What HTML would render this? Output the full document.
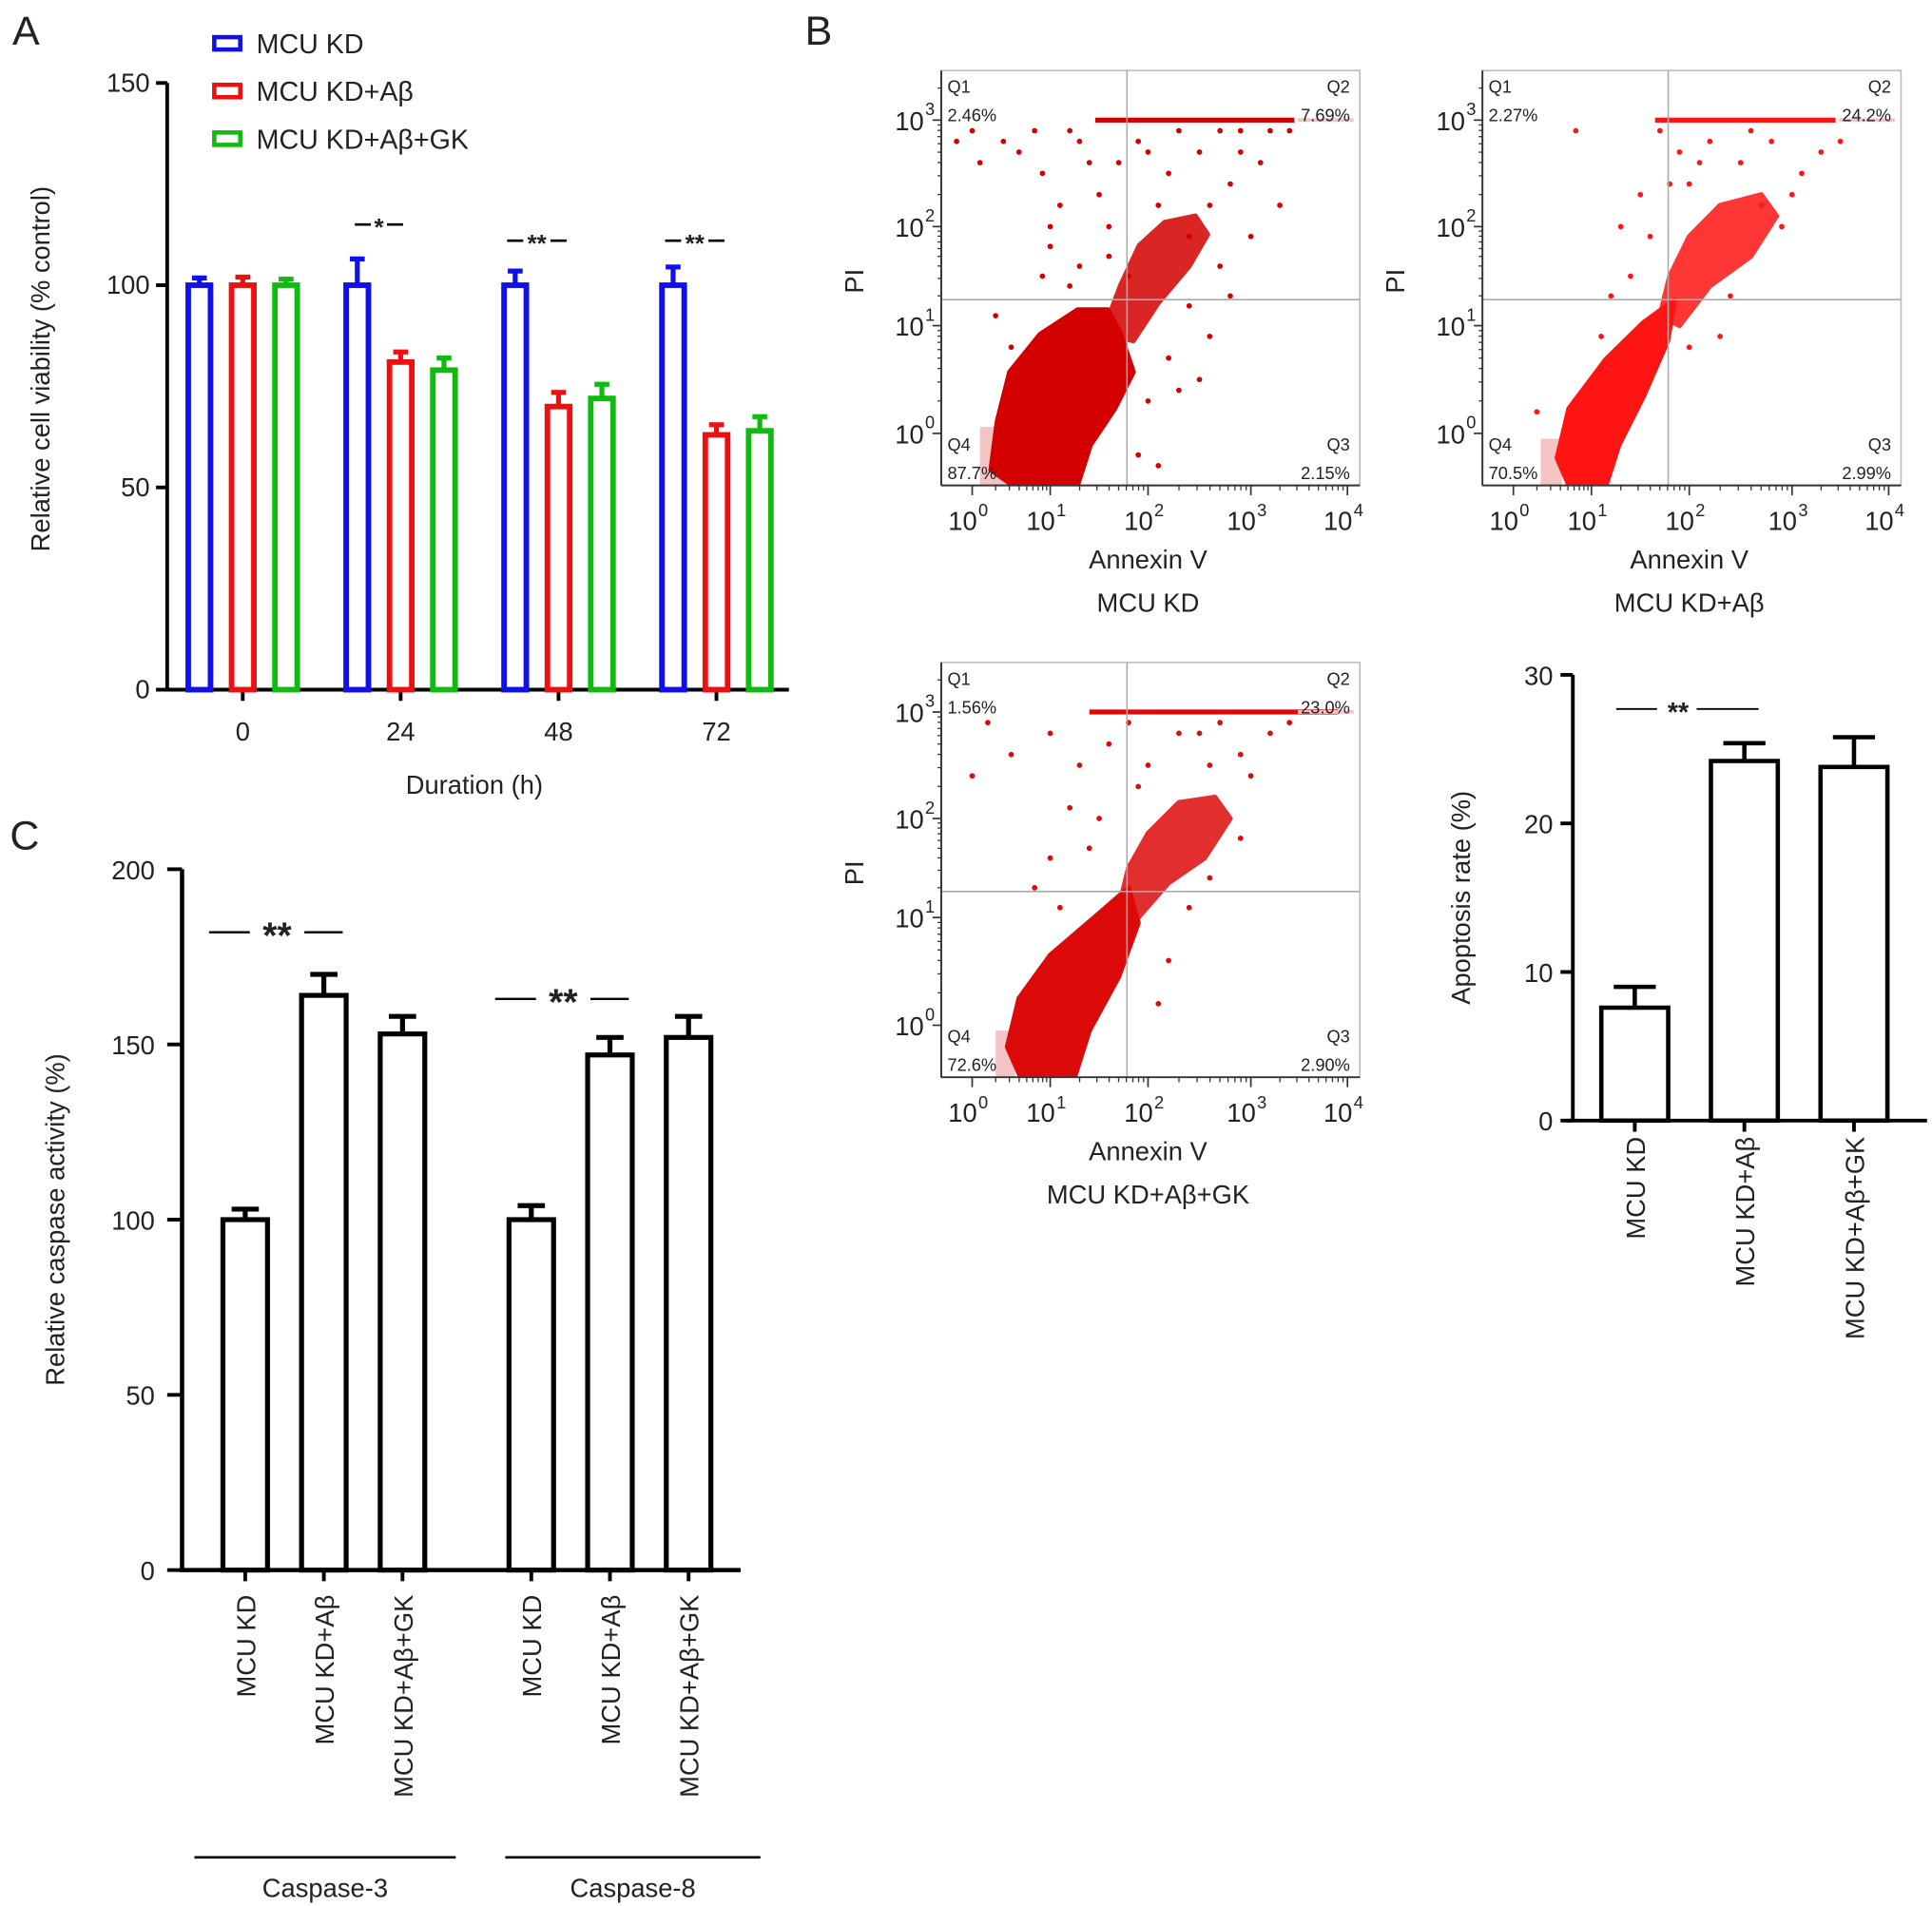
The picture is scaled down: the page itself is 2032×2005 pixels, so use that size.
<!DOCTYPE html>
<html><head><meta charset="utf-8"><style>
html,body{margin:0;padding:0;background:#fff}
svg{display:block}
text{font-family:"Liberation Sans",Arial,sans-serif;fill:#222}
</style></head><body>
<svg id="fig" width="2032" height="2005" viewBox="0 0 1560 1539.3" preserveAspectRatio="none" xmlns="http://www.w3.org/2000/svg">
<rect x="0" y="0" width="1560" height="1540" fill="#fff"/>
<text x="10" y="36" font-size="33">A</text>
<text x="650" y="36" font-size="33">B</text>
<text x="8" y="686" font-size="33">C</text>
</svg>
<script>
// ---------- Panel A data ----------
const aCategories=['0','24','48','72'];
const aKD=[100,100,100,100];
const aAb=[100,81,70,63];
const aGK=[100,79,72,64];
const aKDerr=[1.8,6.5,3.5,4.5];
const aAberr=[2,2.5,3.5,2.5];
const aGKerr=[1.5,3,3.5,3.5];
const aSig=['','*','**','**'];
const aSigVal=[0,115,111,111];
const aTicks=[0,50,100,150];
const aSeriesNames=['MCU KD','MCU KD+Aβ','MCU KD+Aβ+GK'];
// ---------- Apoptosis data ----------
const apCats=['MCU KD','MCU KD+Aβ','MCU KD+Aβ+GK'];
const apVals=[7.6,24.2,23.8];
const apErr=[1.4,1.2,2.0];
const apTicks=[0,10,20,30];
// ---------- Panel C data ----------
const cGroups=['Caspase-3','Caspase-8'];
const cCats=['MCU KD','MCU KD+Aβ','MCU KD+Aβ+GK'];
const cCasp3=[100,164,153];
const cCasp8=[100,147,152];
const cCasp3Err=[3,6,5];
const cCasp8Err=[4,5,6];
const cTicks=[0,50,100,150,200];
// ---------- Flow data (log10 units: [annexin, PI]) ----------
const f1Blob=[[0.52,-0.48],[0.24,-0.34],[0.32,0.11],[0.48,0.57],[0.87,0.92],[1.28,1.16],[1.59,1.16],[1.72,0.92],[1.85,0.57],[1.66,0.23],[1.41,-0.11],[1.28,-0.48]];
const f1Tail=[[1.53,0.92],[1.72,1.41],[1.91,1.81],[2.16,2.04],[2.46,2.1],[2.58,1.92],[2.40,1.6],[2.10,1.23],[1.85,0.86]];
const f1Pts=[[0.1,2.6],[0.4,2.8],[0.9,2.5],[1.2,2.9],[1.5,2.3],[1.7,2.6],[1.9,2.8],[2.2,2.5],[2.5,2.7],[2.8,2.4],[3.1,2.6],[3.3,2.2],[2.9,2.9],[1.0,1.8],[1.3,1.6],[1.6,2.0],[2.7,1.6],[3.0,1.9],[2.4,1.2],[2.6,0.9],[2.2,0.7],[2.0,0.3],[1.9,-0.2],[0.5,0.8],[0.3,1.1],[-0.2,2.8],[2.3,2.9],[1.1,2.2],[3.4,2.9],[0.6,2.7],[2.0,2.7],[2.6,2.2],[1.4,2.6],[0.8,2.9],[2.9,2.7],[1.8,1.5],[2.8,1.3],[2.3,0.4],[1.2,1.4],[1.0,2.0],[2.1,2.2],[2.4,1.9],[0.9,1.5],[1.6,1.7],[2.5,0.5],[2.1,-0.3],[0.0,2.9],[1.3,2.8],[2.7,2.9],[3.2,2.9]];
const f1Top=[1.46,3.45];
const f1Pink=[[0.1,0.52,-0.5,0.06]];
const f1Labels=['2.46%','7.69%','87.7%','2.15%'];
const f2Blob=[[0.71,-0.48],[0.56,-0.23],[0.71,0.23],[1.15,0.69],[1.53,1.03],[1.85,1.26],[1.78,0.86],[1.53,0.34],[1.28,-0.11],[1.15,-0.48]];
const f2Tail=[[1.7,1.1],[1.8,1.5],[2.0,1.9],[2.3,2.2],[2.7,2.3],[2.85,2.1],[2.6,1.7],[2.2,1.4],[1.9,1.0]];
const f2Pts=[[0.8,2.9],[1.7,2.9],[1.9,2.7],[2.2,2.8],[2.5,2.6],[2.8,2.8],[3.1,2.5],[3.3,2.7],[1.5,2.3],[1.6,1.9],[2.0,2.4],[2.7,2.2],[3.0,2.3],[2.4,1.3],[1.4,1.5],[0.3,0.2],[2.3,0.9],[1.2,1.3],[3.5,2.8],[2.6,2.9],[1.3,2.0],[1.8,2.4],[2.9,2.0],[2.1,2.6],[1.1,0.9],[2.0,0.8]];
const f2Top=[1.65,3.45];
const f2Pink=[[0.35,0.62,-0.5,-0.05]];
const f2Labels=['2.27%','24.2%','70.5%','2.99%'];
const f3Blob=[[0.62,-0.48],[0.45,-0.2],[0.6,0.25],[1.0,0.65],[1.45,1.0],[1.8,1.3],[1.9,0.95],[1.7,0.45],[1.4,-0.05],[1.25,-0.48]];
const f3Tail=[[1.7,1.1],[1.8,1.5],[2.0,1.85],[2.3,2.15],[2.65,2.2],[2.8,2.0],[2.55,1.6],[2.2,1.35],[1.9,1.0]];
const f3Pts=[[0.2,2.9],[0.5,2.6],[1.0,2.8],[1.3,2.5],[1.6,2.7],[2.0,2.5],[2.3,2.8],[2.6,2.5],[2.9,2.6],[3.2,2.8],[1.2,2.1],[1.5,2.0],[2.9,1.8],[2.4,1.1],[2.2,0.6],[0.8,1.3],[3.4,2.9],[1.8,2.9],[2.7,2.9],[0.0,2.4],[1.4,1.7],[2.1,0.2],[1.0,1.6],[1.9,2.3],[2.5,2.8],[3.0,2.4],[1.1,1.1],[2.6,1.4]];
const f3Top=[1.4,3.9];
const f3Pink=[[0.3,0.55,-0.5,-0.05]];
const f3Labels=['1.56%','23.0%','72.6%','2.90%'];
const flowXTicks=[0,1,2,3,4];
const flowYTicks=[0,1,2,3];

const NS='http://www.w3.org/2000/svg';
const svg=document.getElementById('fig');
function mk(tag,attrs,parent){const el=document.createElementNS(NS,tag);for(const k in attrs)el.setAttribute(k,attrs[k]);(parent||svg).appendChild(el);return el;}
function txt(s,attrs,parent){const el=mk('text',attrs,parent);el.textContent=s;return el;}

// ================= Panel A =================
(function(){
  const x0=135,y0=557,yTop=67;
  const y=v=>y0-v*(y0-yTop)/150;
  const xc=i=>196+i*127.5;
  const colors=['#1010ee','#ee1010','#10bb10'];
  const series=[aKD,aAb,aGK],errs=[aKDerr,aAberr,aGKerr],offs=[-35,0,35];
  let el;
  el=mk('line',{x1:x0,y1:yTop,x2:x0,y2:y0,stroke:'#000','stroke-width':3});
  
  
  el=mk('line',{x1:x0-2,y1:y0,x2:637,y2:y0,stroke:'#000','stroke-width':3});
  
  
  aTicks.forEach(t=>{
    mk('line',{x1:x0-9,y1:y(t),x2:x0,y2:y(t),stroke:'#000','stroke-width':3});
    el=txt(String(t),{x:x0-14,y:y(t)+7,'font-size':21,'text-anchor':'end'});
    
    
  });
  aCategories.forEach((c,i)=>{
    mk('line',{x1:xc(i),y1:y0,x2:xc(i),y2:y0+9,stroke:'#000','stroke-width':3});
    el=txt(c,{x:xc(i),y:598,'font-size':21,'text-anchor':'middle'});
    
    
    series.forEach((s,k)=>{
      const cx=xc(i)+offs[k],top=y(s[i]);
      el=mk('line',{x1:cx,y1:top,x2:cx,y2:y(s[i]+errs[k][i]),stroke:colors[k],'stroke-width':4});
      
      
      mk('line',{x1:cx-6,y1:y(s[i]+errs[k][i]),x2:cx+6,y2:y(s[i]+errs[k][i]),stroke:colors[k],'stroke-width':4});
      el=mk('rect',{x:cx-9,y:top,width:18,height:y0-top,fill:'#fff',stroke:colors[k],'stroke-width':4.5});
      
      
    });
    if(aSig[i]){
      const mx=(xc(i)+offs[0]+xc(i))/2,sy=y(aSigVal[i]);
      const w=aSig[i].length*9;
      mk('line',{x1:mx-w/2-15,y1:sy,x2:mx-w/2-2,y2:sy,stroke:'#000','stroke-width':2});
      mk('line',{x1:mx+w/2+2,y1:sy,x2:mx+w/2+15,y2:sy,stroke:'#000','stroke-width':2});
      el=txt(aSig[i],{x:mx,y:sy+9,'font-size':20,'text-anchor':'middle','font-weight':'bold'});
      
      
    }
  });
  aSeriesNames.forEach((n,k)=>{
    const ly=35+k*38.5;
    el=mk('rect',{x:173,y:ly-5,width:21,height:10,fill:'#fff',stroke:colors[k],'stroke-width':3.5});
    
    
    el=txt(n,{x:207,y:ly+8,'font-size':22});
    
    
  });
  el=txt('Relative cell viability (% control)',{x:0,y:0,'font-size':21,'text-anchor':'middle',transform:'translate(40,298) rotate(-90)'});
  
  
  el=txt('Duration (h)',{x:383,y:641,'font-size':21,'text-anchor':'middle'});
  
  
})();

// ================= Flow plots =================
function flow(ox,oy,color,blob,tail,pts,top,pinks,labels,title,name){
  const W=338,H=335;
  const xT=[25,88,167,250,328],yT=[293,206,126,40];
  const fx=v=>{let i=Math.min(Math.max(Math.floor(v),0),3);return ox+xT[i]+(v-i)*(xT[i+1]-xT[i]);};
  const fy=v=>{let i=Math.min(Math.max(Math.floor(v),0),2);return oy+yT[i]+(v-i)*(yT[i+1]-yT[i]);};
  const g=mk('g',{});
  
  
  mk('clipPath',{id:'c'+name},g);
  mk('rect',{x:ox,y:oy,width:W,height:H},g.lastChild);
  const cg=mk('g',{'clip-path':'url(#c'+name+')'},g);
  let el;
  pinks.forEach(p=>{
    el=mk('rect',{x:fx(p[0]),y:fy(p[3]),width:fx(p[1])-fx(p[0]),height:fy(p[2])-fy(p[3]),fill:'#f4c4c4'},cg);
    
    
  });
  [blob,tail].forEach((poly,j)=>{
    el=mk('polygon',{points:poly.map(p=>fx(p[0])+','+fy(p[1])).join(' '),fill:color,stroke:color,'stroke-width':4,'stroke-linejoin':'round',opacity:j?0.85:1},cg);
    
    
  });
  pts.forEach(p=>{
    el=mk('circle',{cx:fx(p[0]),cy:fy(p[1]),r:2.2,fill:color},cg);
    
    
  });
  el=mk('rect',{x:fx(top[0]),y:fy(3)-2,width:fx(top[1])-fx(top[0]),height:4,fill:color},cg);
  
  
  mk('line',{x1:ox+W-50,y1:fy(3),x2:ox+W-5,y2:fy(3),stroke:'#f4c4c4','stroke-width':3},cg);
  mk('rect',{x:ox,y:oy,width:W,height:H,fill:'none',stroke:'#bbb','stroke-width':1.2},g);
  mk('line',{x1:ox+150,y1:oy,x2:ox+150,y2:oy+H,stroke:'#aaa','stroke-width':1.2},g);
  mk('line',{x1:ox,y1:oy+185,x2:ox+W,y2:oy+185,stroke:'#aaa','stroke-width':1.2},g);
  mk('line',{x1:ox,y1:oy,x2:ox,y2:oy+H,stroke:'#333','stroke-width':1.5},g);
  mk('line',{x1:ox,y1:oy+H,x2:ox+W,y2:oy+H,stroke:'#333','stroke-width':1.5},g);
  flowXTicks.forEach(t=>{
    mk('line',{x1:fx(t),y1:oy+H,x2:fx(t),y2:oy+H+8,stroke:'#333','stroke-width':1.3},g);
    if(t<4)for(let m=2;m<10;m++){const xx=fx(t+Math.log10(m));mk('line',{x1:xx,y1:oy+H,x2:xx,y2:oy+H+4,stroke:'#333','stroke-width':1},g);}
    el=txt('10',{x:fx(t)+4,y:oy+H+36,'font-size':21,'text-anchor':'end'},g);
    
    
    txt(String(t),{x:fx(t)+5,y:oy+H+25,'font-size':14},g);
  });
  flowYTicks.forEach(t=>{
    mk('line',{x1:ox-7,y1:fy(t),x2:ox,y2:fy(t),stroke:'#333','stroke-width':1.3},g);
    for(let m=2;m<10;m++){const yy=fy(t+Math.log10(m));if(yy>oy)mk('line',{x1:ox-3,y1:yy,x2:ox,y2:yy,stroke:'#333','stroke-width':1},g);}
    el=txt('10',{x:ox-14,y:fy(t)+8,'font-size':21,'text-anchor':'end'},g);
    
    
    txt(String(t),{x:ox-13,y:fy(t)-4,'font-size':14},g);
  });
  const qs=[['Q1',ox+5,oy+18,'start'],['Q2',ox+W-8,oy+18,'end'],['Q4',ox+5,oy+307,'start'],['Q3',ox+W-8,oy+307,'end']];
  qs.forEach((q,i)=>{
    txt(q[0],{x:q[1],y:q[2],'font-size':14,'text-anchor':q[3],fill:'#333'},g);
    el=txt(labels[i],{x:q[1],y:q[2]+23,'font-size':14,'text-anchor':q[3],fill:'#333'},g);
    
    
  });
  el=txt('PI',{x:0,y:0,'font-size':21,'text-anchor':'middle',transform:'translate('+(ox-63)+','+(oy+170)+') rotate(-90)'},g);
  
  
  el=txt('Annexin V',{x:ox+167,y:oy+402,'font-size':21,'text-anchor':'middle'},g);
  
  
  el=txt(title,{x:ox+167,y:oy+437,'font-size':21,'text-anchor':'middle'},g);
  
  
}
flow(760,57,'#d40000',f1Blob,f1Tail,f1Pts,f1Top,f1Pink,f1Labels,'MCU KD','flow-mcu-kd');
flow(1197,57,'#ff1414',f2Blob,f2Tail,f2Pts,f2Top,f2Pink,f2Labels,'MCU KD+Aβ','flow-mcu-kd-ab');
flow(760,535,'#dd0a0a',f3Blob,f3Tail,f3Pts,f3Top,f3Pink,f3Labels,'MCU KD+Aβ+GK','flow-mcu-kd-ab-gk');

// ================= Apoptosis rate bars =================
(function(){
  const x0=1270,y0=905,yTop=545;
  const y=v=>y0-v*(y0-yTop)/30;
  const xc=i=>1320+i*88.5;
  let el;
  el=mk('line',{x1:x0,y1:yTop,x2:x0,y2:y0,stroke:'#000','stroke-width':3});
  
  
  el=mk('line',{x1:x0-5,y1:y0,x2:1556,y2:y0,stroke:'#000','stroke-width':3});
  
  
  apTicks.forEach(t=>{
    mk('line',{x1:x0-10,y1:y(t),x2:x0,y2:y(t),stroke:'#000','stroke-width':3});
    el=txt(String(t),{x:x0-16,y:y(t)+8,'font-size':21,'text-anchor':'end'});
    
    
  });
  apCats.forEach((c,i)=>{
    const cx=xc(i);
    mk('line',{x1:cx,y1:y0,x2:cx,y2:y0+9,stroke:'#000','stroke-width':3});
    mk('line',{x1:cx,y1:y(apVals[i]),x2:cx,y2:y(apVals[i]+apErr[i]),stroke:'#000','stroke-width':3.5});
    el=mk('line',{x1:cx-17,y1:y(apVals[i]+apErr[i]),x2:cx+17,y2:y(apVals[i]+apErr[i]),stroke:'#000','stroke-width':3.5});
    
    
    el=mk('rect',{x:cx-27,y:y(apVals[i]),width:54,height:y0-y(apVals[i]),fill:'#fff',stroke:'#000','stroke-width':3.5});
    
    
    el=txt(c,{x:0,y:0,'font-size':21,'text-anchor':'end',transform:'translate('+(cx+8)+',918) rotate(-90)'});
    
    
  });
  const sy=y(27.7);
  mk('line',{x1:1305,y1:sy,x2:1338,y2:sy,stroke:'#000','stroke-width':1.5});
  mk('line',{x1:1370,y1:sy,x2:1420,y2:sy,stroke:'#000','stroke-width':1.5});
  el=txt('**',{x:1355,y:sy+10,'font-size':22,'text-anchor':'middle','font-weight':'bold'});
  
  
  el=txt('Apoptosis rate (%)',{x:0,y:0,'font-size':21,'text-anchor':'middle',transform:'translate(1187,725) rotate(-90)'});
  
  
})();

// ================= Panel C =================
(function(){
  const x0=147,y0=1268,yTop=702;
  const y=v=>y0-v*(y0-yTop)/200;
  const groupStart=[198,429];
  const xc=(g,i)=>groupStart[g]+i*63.5;
  const lineLeft=[41,21],lineRight=[43,58];
  const vals=[cCasp3,cCasp8],errs=[cCasp3Err,cCasp8Err];
  let el;
  el=mk('line',{x1:x0,y1:yTop,x2:x0,y2:y0,stroke:'#000','stroke-width':3.5});
  
  
  el=mk('line',{x1:x0-2,y1:y0,x2:598,y2:y0,stroke:'#000','stroke-width':3.5});
  
  
  cTicks.forEach(t=>{
    mk('line',{x1:x0-12,y1:y(t),x2:x0,y2:y(t),stroke:'#000','stroke-width':3});
    el=txt(String(t),{x:x0-22,y:y(t)+8,'font-size':21,'text-anchor':'end'});
    
    
  });
  cGroups.forEach((gName,g)=>{
    cCats.forEach((c,i)=>{
      const cx=xc(g,i),v=vals[g][i],e=errs[g][i];
      mk('line',{x1:cx,y1:y0,x2:cx,y2:y0+9,stroke:'#000','stroke-width':3});
      mk('line',{x1:cx,y1:y(v),x2:cx,y2:y(v+e),stroke:'#000','stroke-width':4});
      el=mk('line',{x1:cx-11,y1:y(v+e),x2:cx+11,y2:y(v+e),stroke:'#000','stroke-width':4});
      
      
      el=mk('rect',{x:cx-18,y:y(v),width:36,height:y0-y(v),fill:'#fff',stroke:'#000','stroke-width':4});
      
      
      el=txt(c,{x:0,y:0,'font-size':21,'text-anchor':'end',transform:'translate('+(cx+8)+',1288) rotate(-90)'});
      
      
    });
    const gx1=xc(g,0)-lineLeft[g],gx2=xc(g,2)+lineRight[g];
    el=mk('line',{x1:gx1,y1:1500,x2:gx2,y2:1500,stroke:'#000','stroke-width':2});
    
    
    el=txt(gName,{x:(gx1+gx2)/2,y:1532,'font-size':21,'text-anchor':'middle'});
    
    
    const sy=g===0?y(182):y(163);
    const mx=(xc(g,0)+xc(g,1))/2-6;
    mk('line',{x1:mx-55,y1:sy,x2:mx-22,y2:sy,stroke:'#000','stroke-width':1.8});
    mk('line',{x1:mx+22,y1:sy,x2:mx+53,y2:sy,stroke:'#000','stroke-width':1.8});
    el=txt('**',{x:mx,y:sy+13,'font-size':30,'text-anchor':'middle','font-weight':'bold'});
    
    
  });
  el=txt('Relative caspase activity (%)',{x:0,y:0,'font-size':21,'text-anchor':'middle',transform:'translate(52,985) rotate(-90)'});
  
  
})();
</script>
</body></html>
